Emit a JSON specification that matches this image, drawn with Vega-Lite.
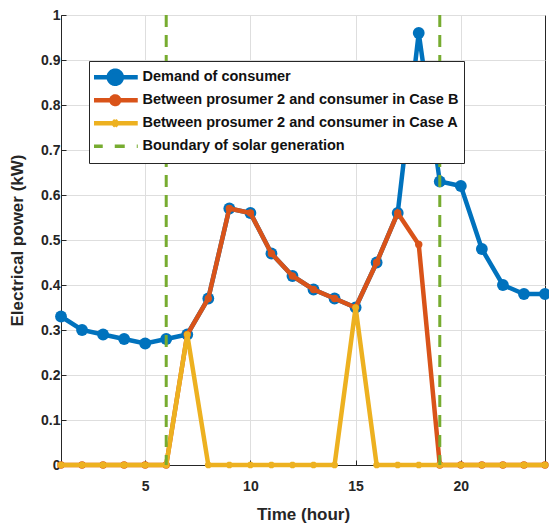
{
  "$schema": "https://vega.github.io/schema/vega-lite/v6.json",
  "width": 484,
  "height": 450,
  "autosize": "none",
  "padding": {"left": 61, "top": 15, "right": 4, "bottom": 60},
  "background": "white",
  "config": {
    "font": "Liberation Sans",
    "view": {"stroke": "#262626", "strokeWidth": 1},
    "axis": {
      "labelFont": "Liberation Sans", "labelFontSize": 14, "labelFontWeight": "bold", "labelColor": "#262626",
      "titleFont": "Liberation Sans", "titleFontSize": 17, "titleFontWeight": "bold", "titleColor": "#262626",
      "domainColor": "#262626", "tickColor": "#262626", "gridColor": "#dedede", "gridWidth": 1
    }
  },
  "datasets": {
    "power": [
      {"hour": 1, "series": "Demand of consumer", "kw": 0.33},
      {"hour": 2, "series": "Demand of consumer", "kw": 0.30},
      {"hour": 3, "series": "Demand of consumer", "kw": 0.29},
      {"hour": 4, "series": "Demand of consumer", "kw": 0.28},
      {"hour": 5, "series": "Demand of consumer", "kw": 0.27},
      {"hour": 6, "series": "Demand of consumer", "kw": 0.28},
      {"hour": 7, "series": "Demand of consumer", "kw": 0.29},
      {"hour": 8, "series": "Demand of consumer", "kw": 0.37},
      {"hour": 9, "series": "Demand of consumer", "kw": 0.57},
      {"hour": 10, "series": "Demand of consumer", "kw": 0.56},
      {"hour": 11, "series": "Demand of consumer", "kw": 0.47},
      {"hour": 12, "series": "Demand of consumer", "kw": 0.42},
      {"hour": 13, "series": "Demand of consumer", "kw": 0.39},
      {"hour": 14, "series": "Demand of consumer", "kw": 0.37},
      {"hour": 15, "series": "Demand of consumer", "kw": 0.35},
      {"hour": 16, "series": "Demand of consumer", "kw": 0.45},
      {"hour": 17, "series": "Demand of consumer", "kw": 0.56},
      {"hour": 18, "series": "Demand of consumer", "kw": 0.96},
      {"hour": 19, "series": "Demand of consumer", "kw": 0.63},
      {"hour": 20, "series": "Demand of consumer", "kw": 0.62},
      {"hour": 21, "series": "Demand of consumer", "kw": 0.48},
      {"hour": 22, "series": "Demand of consumer", "kw": 0.40},
      {"hour": 23, "series": "Demand of consumer", "kw": 0.38},
      {"hour": 24, "series": "Demand of consumer", "kw": 0.38},
      {"hour": 1, "series": "Between prosumer 2 and consumer in Case B", "kw": 0},
      {"hour": 2, "series": "Between prosumer 2 and consumer in Case B", "kw": 0},
      {"hour": 3, "series": "Between prosumer 2 and consumer in Case B", "kw": 0},
      {"hour": 4, "series": "Between prosumer 2 and consumer in Case B", "kw": 0},
      {"hour": 5, "series": "Between prosumer 2 and consumer in Case B", "kw": 0},
      {"hour": 6, "series": "Between prosumer 2 and consumer in Case B", "kw": 0},
      {"hour": 7, "series": "Between prosumer 2 and consumer in Case B", "kw": 0.29},
      {"hour": 8, "series": "Between prosumer 2 and consumer in Case B", "kw": 0.37},
      {"hour": 9, "series": "Between prosumer 2 and consumer in Case B", "kw": 0.57},
      {"hour": 10, "series": "Between prosumer 2 and consumer in Case B", "kw": 0.56},
      {"hour": 11, "series": "Between prosumer 2 and consumer in Case B", "kw": 0.47},
      {"hour": 12, "series": "Between prosumer 2 and consumer in Case B", "kw": 0.42},
      {"hour": 13, "series": "Between prosumer 2 and consumer in Case B", "kw": 0.39},
      {"hour": 14, "series": "Between prosumer 2 and consumer in Case B", "kw": 0.37},
      {"hour": 15, "series": "Between prosumer 2 and consumer in Case B", "kw": 0.35},
      {"hour": 16, "series": "Between prosumer 2 and consumer in Case B", "kw": 0.45},
      {"hour": 17, "series": "Between prosumer 2 and consumer in Case B", "kw": 0.56},
      {"hour": 18, "series": "Between prosumer 2 and consumer in Case B", "kw": 0.49},
      {"hour": 19, "series": "Between prosumer 2 and consumer in Case B", "kw": 0},
      {"hour": 20, "series": "Between prosumer 2 and consumer in Case B", "kw": 0},
      {"hour": 21, "series": "Between prosumer 2 and consumer in Case B", "kw": 0},
      {"hour": 22, "series": "Between prosumer 2 and consumer in Case B", "kw": 0},
      {"hour": 23, "series": "Between prosumer 2 and consumer in Case B", "kw": 0},
      {"hour": 24, "series": "Between prosumer 2 and consumer in Case B", "kw": 0},
      {"hour": 1, "series": "Between prosumer 2 and consumer in Case A", "kw": 0},
      {"hour": 2, "series": "Between prosumer 2 and consumer in Case A", "kw": 0},
      {"hour": 3, "series": "Between prosumer 2 and consumer in Case A", "kw": 0},
      {"hour": 4, "series": "Between prosumer 2 and consumer in Case A", "kw": 0},
      {"hour": 5, "series": "Between prosumer 2 and consumer in Case A", "kw": 0},
      {"hour": 6, "series": "Between prosumer 2 and consumer in Case A", "kw": 0},
      {"hour": 7, "series": "Between prosumer 2 and consumer in Case A", "kw": 0.29},
      {"hour": 8, "series": "Between prosumer 2 and consumer in Case A", "kw": 0},
      {"hour": 9, "series": "Between prosumer 2 and consumer in Case A", "kw": 0},
      {"hour": 10, "series": "Between prosumer 2 and consumer in Case A", "kw": 0},
      {"hour": 11, "series": "Between prosumer 2 and consumer in Case A", "kw": 0},
      {"hour": 12, "series": "Between prosumer 2 and consumer in Case A", "kw": 0},
      {"hour": 13, "series": "Between prosumer 2 and consumer in Case A", "kw": 0},
      {"hour": 14, "series": "Between prosumer 2 and consumer in Case A", "kw": 0},
      {"hour": 15, "series": "Between prosumer 2 and consumer in Case A", "kw": 0.35},
      {"hour": 16, "series": "Between prosumer 2 and consumer in Case A", "kw": 0},
      {"hour": 17, "series": "Between prosumer 2 and consumer in Case A", "kw": 0},
      {"hour": 18, "series": "Between prosumer 2 and consumer in Case A", "kw": 0},
      {"hour": 19, "series": "Between prosumer 2 and consumer in Case A", "kw": 0},
      {"hour": 20, "series": "Between prosumer 2 and consumer in Case A", "kw": 0},
      {"hour": 21, "series": "Between prosumer 2 and consumer in Case A", "kw": 0},
      {"hour": 22, "series": "Between prosumer 2 and consumer in Case A", "kw": 0},
      {"hour": 23, "series": "Between prosumer 2 and consumer in Case A", "kw": 0},
      {"hour": 24, "series": "Between prosumer 2 and consumer in Case A", "kw": 0}
    ],
    "boundary": [{"hour": 6}, {"hour": 19}]
  },
  "data": {"name": "power"},
  "encoding": {
    "x": {"field": "hour", "type": "quantitative",
      "scale": {"domain": [1, 24], "nice": false},
      "axis": {"values": [5, 10, 15, 20], "title": "Time (hour)", "grid": true, "tickSize": -5, "labelPadding": 19, "titlePadding": 13}},
    "y": {"field": "kw", "type": "quantitative",
      "scale": {"domain": [0, 1], "nice": false},
      "axis": {"values": [0, 0.1, 0.2, 0.3, 0.4, 0.5, 0.6, 0.7, 0.8, 0.9, 1], "format": "~g", "title": "Electrical power (kW)", "grid": true, "tickSize": -5, "labelPadding": 6, "titlePadding": 14}},
    "color": {"field": "series", "type": "nominal",
      "scale": {"domain": ["Demand of consumer", "Between prosumer 2 and consumer in Case B", "Between prosumer 2 and consumer in Case A", "Boundary of solar generation"],
                "range": ["#0072BD", "#D95319", "#EDB120", "#77AC30"]}}
  },
  "layer": [
    {
      "transform": [{"filter": "datum.series === 'Demand of consumer'"}],
      "mark": {"type": "line", "strokeWidth": 4.5},
      "encoding": {
        "color": {"field": "series", "type": "nominal",
          "legend": {
            "orient": "none", "legendX": 28, "legendY": 46, "direction": "vertical",
            "title": null, "fillColor": "white", "strokeColor": "#262626", "padding": 5,
            "labelFont": "Liberation Sans", "labelFontSize": 14.5, "labelFontWeight": "bold", "labelColor": "#111111", "labelLimit": 500,
            "symbolSize": 2025, "symbolStrokeWidth": 4.5, "symbolOffset": 14, "labelOffset": 20, "rowPadding": 0, "clipHeight": 22.5,
            "encode": {"symbols": {"update": {
              "shape": {"signal": "datum.value === 'Demand of consumer' ? 'M-1,0L1,0M-0.29,0A0.29,0.29,0,1,1,0.29,0A0.29,0.29,0,1,1,-0.29,0Z' : datum.value === 'Between prosumer 2 and consumer in Case B' ? 'M-1,0L1,0M-0.17,0A0.17,0.17,0,1,1,0.17,0A0.17,0.17,0,1,1,-0.17,0Z' : datum.value === 'Between prosumer 2 and consumer in Case A' ? 'M-1,0L1,0M-0.12,-0.12L0.12,0.12M-0.12,0.12L0.12,-0.12M0,-0.16L0,0.16' : 'M-1,0L1,0'"},
              "size": {"value": 2025},
              "fill": {"scale": "color", "field": "value"},
              "stroke": {"scale": "color", "field": "value"},
              "strokeDash": {"signal": "datum.value === 'Boundary of solar generation' ? [10, 12] : [1, 0]"},
              "strokeWidth": {"signal": "datum.value === 'Boundary of solar generation' ? 3.5 : 4.5"},
              "opacity": {"value": 1}
            }}}
          }}
      }
    },
    {
      "transform": [{"filter": "datum.series === 'Demand of consumer'"}],
      "mark": {"type": "point", "filled": true, "size": 140, "opacity": 1}
    },
    {
      "transform": [{"filter": "datum.series === 'Between prosumer 2 and consumer in Case B'"}],
      "mark": {"type": "line", "strokeWidth": 4.5}
    },
    {
      "transform": [{"filter": "datum.series === 'Between prosumer 2 and consumer in Case B'"}],
      "mark": {"type": "point", "filled": true, "size": 55, "opacity": 1}
    },
    {
      "transform": [{"filter": "datum.series === 'Between prosumer 2 and consumer in Case A'"}],
      "mark": {"type": "line", "strokeWidth": 4.5}
    },
    {
      "transform": [{"filter": "datum.series === 'Between prosumer 2 and consumer in Case A'"}],
      "mark": {"type": "point", "filled": false, "size": 45, "strokeWidth": 2.5, "opacity": 1,
               "shape": "M-1,0L1,0M0,-1L0,1M-0.7,-0.7L0.7,0.7M-0.7,0.7L0.7,-0.7"}
    },
    {
      "data": {"name": "boundary"},
      "mark": {"type": "rule", "color": "#77AC30", "strokeWidth": 3, "strokeDash": [12, 8]},
      "encoding": {
        "x": {"field": "hour", "type": "quantitative"},
        "y": null,
        "color": null
      }
    }
  ]
}
